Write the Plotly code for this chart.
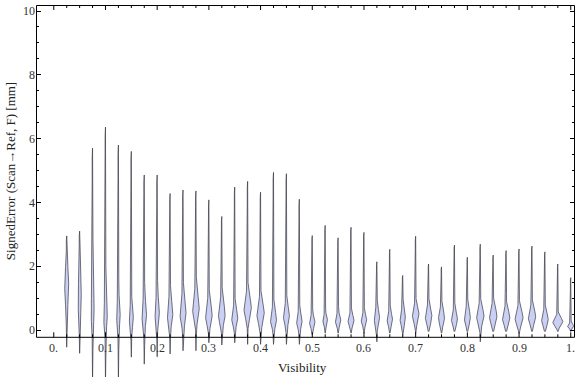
import numpy as np
import plotly.graph_objects as go

# ---------------- data ----------------
visibility = [round(0.025 * k, 3) for k in range(1, 41)]
err_max = [2.95, 3.10, 5.70, 6.36, 5.80, 5.60, 4.86, 4.86, 4.28, 4.39,
           4.36, 4.08, 3.56, 4.48, 4.66, 4.32, 4.94, 4.90, 4.10, 2.96,
           3.28, 2.89, 3.22, 3.06, 2.14, 2.53, 1.71, 2.94, 2.07, 1.98,
           2.66, 2.28, 2.69, 2.35, 2.49, 2.54, 2.63, 2.45, 2.07, 1.64]
err_min = [-0.54, -0.73, -1.60, -1.60, -1.60, -0.85, -1.07, -0.84, -0.75, -0.65,
           -0.65, -0.40, -0.47, -0.40, -0.45, -0.45, -0.45, -0.45, -0.45, -0.15,
           -0.10, -0.10, -0.10, -0.10, -0.37, -0.10, -0.15, -0.10, -0.05, -0.10,
           -0.05, -0.05, -0.37, -0.05, -0.05, -0.10, -0.05, -0.05, -0.05, -0.05]
err_mode = [1.36, 0.94, 0.50, 0.35, 0.40, 0.35, 0.42, 0.50, 0.45, 0.50,
            0.63, 0.42, 0.45, 0.35, 0.68, 0.50, 0.30, 0.42, 0.25, 0.23,
            0.30, 0.28, 0.28, 0.30, 0.37, 0.32, 0.35, 0.47, 0.42, 0.37,
            0.33, 0.37, 0.42, 0.42, 0.37, 0.37, 0.40, 0.32, 0.25, 0.12]
peak_density = [2.0, 1.7, 1.6, 1.8, 1.8, 2.0, 2.3, 2.2, 2.7, 3.0,
                3.3, 3.3, 3.3, 3.0, 3.7, 3.7, 3.0, 3.0, 2.7, 2.7,
                2.3, 2.7, 3.0, 2.7, 2.7, 2.7, 2.7, 3.3, 3.3, 3.0,
                3.0, 3.0, 3.7, 3.7, 3.7, 4.0, 3.7, 3.3, 5.0, 3.2]
spread_low = [0.55, 0.45, 0.30, 0.25, 0.25, 0.25, 0.25, 0.28, 0.25, 0.30,
              0.30, 0.25, 0.25, 0.20, 0.30, 0.28, 0.20, 0.22, 0.18, 0.15,
              0.15, 0.15, 0.15, 0.15, 0.20, 0.18, 0.20, 0.22, 0.22, 0.20,
              0.18, 0.20, 0.22, 0.22, 0.20, 0.20, 0.20, 0.18, 0.12, 0.06]
spread_high = [0.60, 0.60, 0.60, 0.50, 0.50, 0.40, 0.45, 0.45, 0.45, 0.45,
               0.45, 0.40, 0.40, 0.30, 0.35, 0.35, 0.30, 0.30, 0.25, 0.18,
               0.15, 0.18, 0.18, 0.18, 0.25, 0.20, 0.22, 0.25, 0.25, 0.25,
               0.22, 0.27, 0.27, 0.27, 0.25, 0.25, 0.25, 0.22, 0.14, 0.07]
x_tick_vals = [0.0, 0.1, 0.2, 0.3, 0.4, 0.5, 0.6, 0.7, 0.8, 0.9, 1.0]
x_tick_text = ["0.", "0.1", "0.2", "0.3", "0.4", "0.5", "0.6", "0.7", "0.8", "0.9", "1."]
y_tick_vals = [0, 2, 4, 6, 8, 10]

# ---------------- geometry helpers ----------------
W, H = 576, 377
ML, MR, MT, MB = 36, 1, 5, 0
XR = [-0.0344, 1.0082]
YR = [-1.473, 10.188]
FRAME_BOTTOM = -0.229
px_per_x = (W - ML - MR) / (XR[1] - XR[0])
px_per_y = (H - MT - MB) / (YR[1] - YR[0])

FILL = "rgb(202,207,244)"
EDGE = "rgba(50,50,60,0.85)"
FONT = "Liberation Serif"

fig = go.Figure()

for c, lo, hi, m, d, sl, sh in zip(visibility, err_min, err_max, err_mode,
                                    peak_density, spread_low, spread_high):
    y = np.linspace(lo, hi, 400)
    s = np.where(y < m, sl, sh)
    body = d * np.exp(-0.5 * ((y - m) / s) ** 2)
    span = hi - lo
    taper = np.clip(np.minimum(y - lo, hi - y) / (0.04 * span), 0, 1)
    tail = 0.4 * taper
    half_px = np.maximum(body, tail)
    half = half_px / px_per_x
    xs = np.concatenate([c + half, (c - half)[::-1]])
    ys = np.concatenate([y, y[::-1]])
    fig.add_trace(go.Scatter(
        x=xs, y=ys, mode="lines", fill="toself", fillcolor=FILL,
        line=dict(color=EDGE, width=0.8), hoverinfo="skip", showlegend=False))

# ---------------- frame and ticks ----------------
shapes = [dict(type="rect", xref="paper", yref="y",
               x0=0.5 / (W - ML - MR), x1=1 - 0.5 / (W - ML - MR),
               y0=FRAME_BOTTOM, y1=YR[1] - 0.5 / px_per_y,
               line=dict(color="black", width=1), fillcolor="rgba(0,0,0,0)",
               layer="above")]
minor_x = [round(0.025 * k, 3) for k in range(0, 41)]
for xv in minor_x:
    major = any(abs(xv - t) < 1e-9 for t in x_tick_vals)
    ln = (5.0 if major else 3.0) / px_per_y
    shapes.append(dict(type="line", xref="x", yref="y", x0=xv, x1=xv,
                       y0=FRAME_BOTTOM, y1=FRAME_BOTTOM + ln,
                       line=dict(color="black", width=1), layer="above"))
    shapes.append(dict(type="line", xref="x", yref="y", x0=xv, x1=xv,
                       y0=YR[1], y1=YR[1] - ln,
                       line=dict(color="black", width=1), layer="above"))

annotations = []
for xv, tx in zip(x_tick_vals, x_tick_text):
    annotations.append(dict(x=xv, y=-0.56, xref="x", yref="y", text=tx,
                            xanchor="center", showarrow=False,
                            font=dict(family=FONT, size=12, color="#333")))
annotations.append(dict(x=0.495, y=-1.19, xref="paper", yref="y", text="Visibility",
                        xanchor="center", showarrow=False,
                        font=dict(family=FONT, size=13, color="#222")))
annotations.append(dict(x=-26 / (W - ML - MR), y=(YR[1] + FRAME_BOTTOM) / 2,
                        xref="paper", yref="y", text="SignedError (Scan→Ref, F) [mm]",
                        xanchor="center", yanchor="middle",
                        textangle=-90, showarrow=False,
                        font=dict(family=FONT, size=13, color="#222")))

minor_y = [v / 2 for v in range(0, 21) if v % 4 != 0]

fig.update_layout(
    width=W, height=H,
    margin=dict(l=ML, r=MR, t=MT, b=MB),
    paper_bgcolor="white", plot_bgcolor="white",
    shapes=shapes, annotations=annotations,
    xaxis=dict(range=XR, showgrid=False, zeroline=False, showticklabels=False,
               ticks="", showline=False, fixedrange=True),
    yaxis=dict(range=YR, showgrid=False, zeroline=False, showline=False,
               tickmode="array", tickvals=y_tick_vals,
               ticktext=[str(v) for v in y_tick_vals],
               ticks="inside", ticklen=5, tickwidth=1, tickcolor="black",
               mirror="ticks",
               minor=dict(tickmode="array", tickvals=minor_y, ticks="inside",
                          ticklen=3, tickwidth=1, tickcolor="black"),
               tickfont=dict(family=FONT, size=12, color="#333"),
               fixedrange=True),
)

fig.write_html("out.html", config={"displayModeBar": False},
               post_script="document.body.style.margin='0';document.body.style.overflow='hidden';")
